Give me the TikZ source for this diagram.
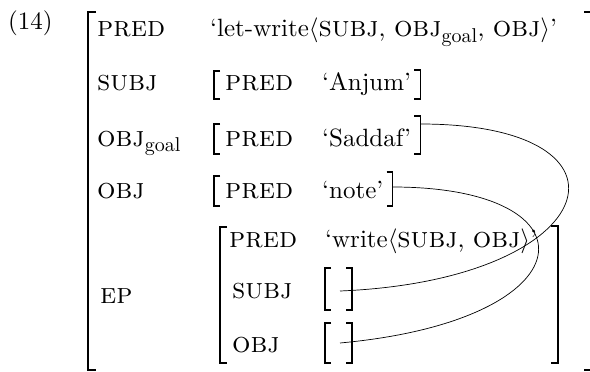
\documentclass[tikz,border=0pt]{standalone}
\usepackage{fontspec}
\setmainfont{lmroman10-regular.otf}[
    SmallCapsFont=lmromancaps10-regular.otf,
    ItalicFont=lmroman10-italic.otf,
    BoldFont=lmroman10-bold.otf]
\usepackage{tikz}
\usetikzlibrary{positioning,calc}

\newcommand\fsc[1]{{\fontsize{29}{32}\selectfont\scshape #1}}
\newcommand\goalsub{\textsubscript{\fontsize{20}{24}\selectfont goal}}

\begin{document}
\begin{tikzpicture}[x=1pt, y=-1pt,
    every node/.style={inner sep=0pt, font=\fontsize{25}{30}\selectfont},
    attr/.style={anchor=base west, font=\fontsize{29}{32}\selectfont\scshape},
    val/.style={anchor=base west},
    brak/.style={line width=1.4pt},
    link/.style={line width=0.7pt}]

    \useasboundingbox (0,0) rectangle (590,372);

    \node[val] (exnum) at (8,30) {(14)};

    % outer f-structure
    \node[attr] (pred) at (97,37) {pred};
    \node[val] (letwrite) at (210,37) {‘let-write$\langle$\fsc{subj}, \fsc{obj}\goalsub, \fsc{obj}$\rangle$’};

    \node[attr] (subj) at (97,90) {subj};
    \node[attr] (subjpred) at (225,90) {pred};
    \node[val] (anjum) at (322,90) {‘Anjum’};

    \node[val] (objgoal) at (97,146) {\fsc{obj}\goalsub};
    \node[attr] (goalpred) at (225,146) {pred};
    \node[val] (saddaf) at (322,146) {‘Saddaf’};

    \node[attr] (obj) at (97,198) {obj};
    \node[attr] (objpred) at (225,198) {pred};
    \node[val] (note) at (322,198) {‘note’};

    \node[attr] (ep) at (100,303) {ep};
    \node[attr] (eppred) at (229,247) {pred};
    \node[val] (write) at (325,247) {‘write$\langle$\fsc{subj}, \fsc{obj}$\rangle$’};
    \node[attr] (epsubj) at (232,298) {subj};
    \node[attr] (epobj) at (232,352) {obj};

    % brackets
    \draw[brak] (96,12) -- (88,12) -- (88,370) -- (96,370);
    \draw[brak] (584,12) -- (593,12) -- (593,370) -- (584,370);

    \draw[brak] (220,71) -- (214,71) -- (214,99) -- (220,99);
    \draw[brak] ($(anjum.base east)+(3,-20)$) -- ++(6,0) -- ++(0,29) -- ++(-6,0);
    \draw[brak] (220,124) -- (214,124) -- (214,154) -- (220,154);
    \draw[brak] ($(saddaf.base east)+(3,-30)$) -- ++(6,0) -- ++(0,38) -- ++(-6,0);
    \draw[brak] (220,176) -- (214,176) -- (214,206) -- (220,206);
    \draw[brak] ($(note.base east)+(3,-26)$) -- ++(6,0) -- ++(0,34) -- ++(-6,0);

    \draw[brak] (227,227) -- (220,227) -- (220,363) -- (227,363);
    \draw[brak] (551,226) -- (558,226) -- (558,363) -- (551,363);

    \draw[brak] (331,268) -- (325,268) -- (325,310) -- (331,310);
    \draw[brak] (346,268) -- (352,268) -- (352,310) -- (346,310);
    \draw[brak] (331,323) -- (325,323) -- (325,363) -- (331,363);
    \draw[brak] (346,323) -- (352,323) -- (352,363) -- (346,363);

    % structure sharing links
    \coordinate (goalR) at ($(saddaf.base east)+(9,-22)$);
    \coordinate (objR) at ($(note.base east)+(9,-11)$);
    \coordinate (subjval) at (340,291);
    \coordinate (objval) at (340,343);

    \draw[link] (goalR) .. controls (650,124) and (605,280) .. (subjval);
    \draw[link] (objR) .. controls (600,187) and (590,320) .. (objval);

\end{tikzpicture}
\end{document}
